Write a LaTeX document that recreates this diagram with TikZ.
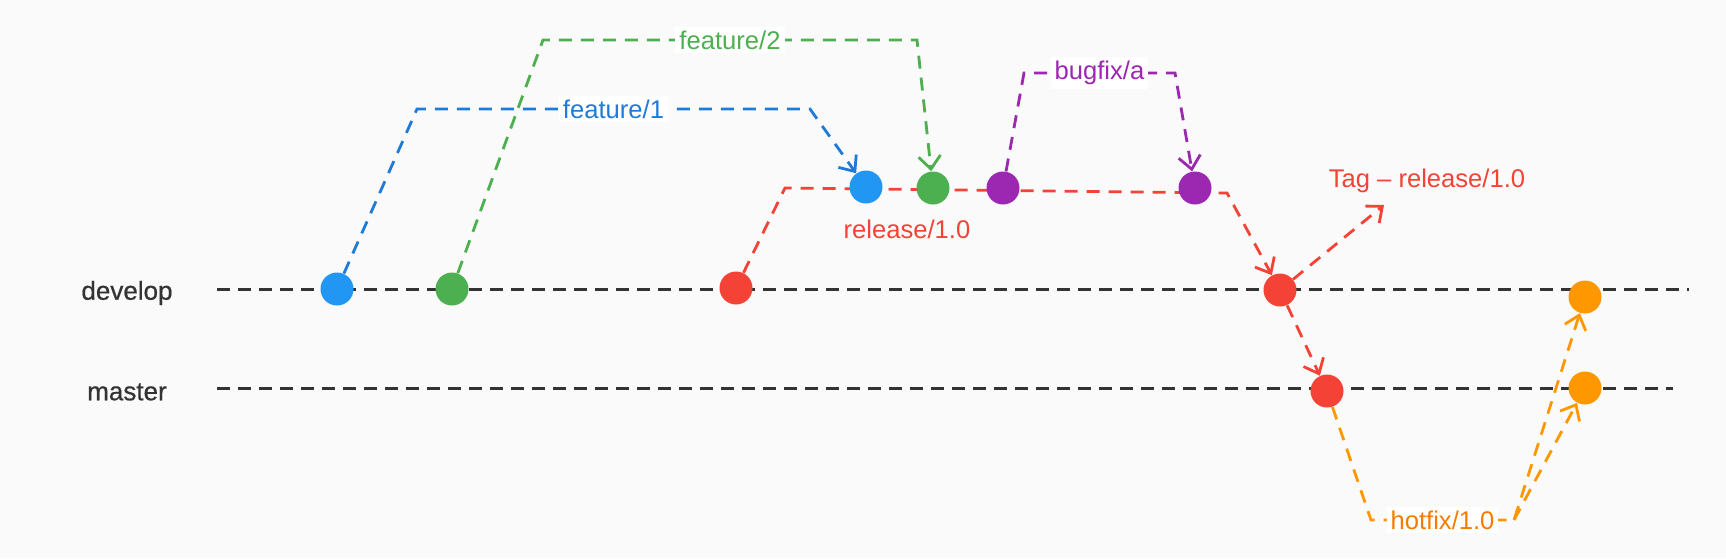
\documentclass[tikz,border=0pt]{standalone}
\usepackage{fontspec}
\setmainfont{Liberation Sans}
\newfontfamily\trunkfont[FakeBold=0.6]{Liberation Sans}
\usetikzlibrary{arrows.meta}
\usetikzlibrary{backgrounds}
\definecolor{bgcol}{HTML}{FAFAFA}
\definecolor{trunkgray}{HTML}{333333}
\definecolor{featblue}{HTML}{2196F3}
\definecolor{featbluedark}{HTML}{1E7BD8}
\definecolor{featgreen}{HTML}{4CAF50}
\definecolor{fixpurple}{HTML}{9C27B0}
\definecolor{relred}{HTML}{F44336}
\definecolor{hotorange}{HTML}{FF9800}
\definecolor{hotorangedark}{HTML}{F57C00}

\begin{document}
\begin{tikzpicture}[x=0.5pt,y=-0.5pt,
        commit/.style={circle,fill=#1,minimum size=16.5pt,inner sep=0pt},
        trunk/.style={draw=trunkgray,line width=1.5pt,dash pattern=on 6.5pt off 4pt},
        flow/.style={draw=#1,line width=1.4pt,dash pattern=on 6.5pt off 4.5pt,
            -{Straight Barb[length=6.5pt,width=11pt,line width=1.4pt]}},
        branchlabel/.style={fill=white,text=#1,inner sep=2pt,font=\fontsize{12.8}{14}\selectfont},
        trunklabel/.style={text=trunkgray,font=\trunkfont\fontsize{13}{15}\selectfont},
    ]
        \useasboundingbox (0,0) rectangle (1726,558);

        % branch names on the left
        \node[trunklabel] (developlbl) at (127,293) {develop};
        \node[trunklabel] (masterlbl) at (127,392) {master};
        \coordinate (devstart) at (217,289);
        \coordinate (devend) at (1689,289);
        \coordinate (mststart) at (217,388);
        \coordinate (mstend) at (1673,388);

        % commits
        \node[commit=featblue] (feat1a) at (337,289) {};
        \node[commit=featgreen] (feat2a) at (452,289) {};
        \node[commit=relred] (rel1) at (736,288) {};
        \node[commit=featblue] (feat1b) at (866,187) {};
        \node[commit=featgreen] (feat2b) at (933,188) {};
        \node[commit=fixpurple] (fixa) at (1003,188) {};
        \node[commit=fixpurple] (fixb) at (1195,188) {};
        \node[commit=relred] (rel2) at (1280,290) {};
        \node[commit=relred] (rel3) at (1327,391) {};
        \node[commit=hotorange] (hot1) at (1585,297) {};
        \node[commit=hotorange] (hot2) at (1585,388) {};
        \coordinate (tagtip) at (1384,205);
        \coordinate (hfend) at (1514,520);

        % text labels
        \node[branchlabel=relred,fill=none] (rellbl) at (907,229) {release/1.0};
        \node[branchlabel=relred,fill=none] (taglbl) at (1427,181) {Tag – release/1.0};

        \begin{pgfonlayer}{background}
            \fill[bgcol] (0,0) rectangle (1726,558);
            \draw[trunk] (devstart) -- (devend);
            \draw[trunk] (mststart) -- (mstend);
            \draw[flow=featbluedark] (feat1a) -- (417,109)
                -- node[branchlabel=featbluedark] (feat1lbl) {feature/1} (810,109) -- (feat1b);
            \draw[flow=featgreen] (feat2a) -- (543,40)
                -- node[branchlabel=featgreen] (feat2lbl) {feature/2} (917,40) -- (feat2b);
            \draw[flow=relred] (rel1) -- (785,188) -- (1227,193) -- (rel2);
            \draw[flow=fixpurple] (fixa) -- (1024,73)
                -- node[branchlabel=fixpurple] (fixlbl) {bugfix/a} (1175,73) -- (fixb);
            \draw[flow=relred] (rel2) -- (rel3);
            \draw[flow=relred] (rel2) -- (tagtip);
            \draw[flow=hotorange] (rel3) -- (1371,520)
                -- node[branchlabel=hotorangedark] (hotlbl) {hotfix/1.0} (hfend) -- (hot1);
            \draw[flow=hotorange] (hfend) -- (hot2);
        \end{pgfonlayer}
    \end{tikzpicture}
\end{document}
